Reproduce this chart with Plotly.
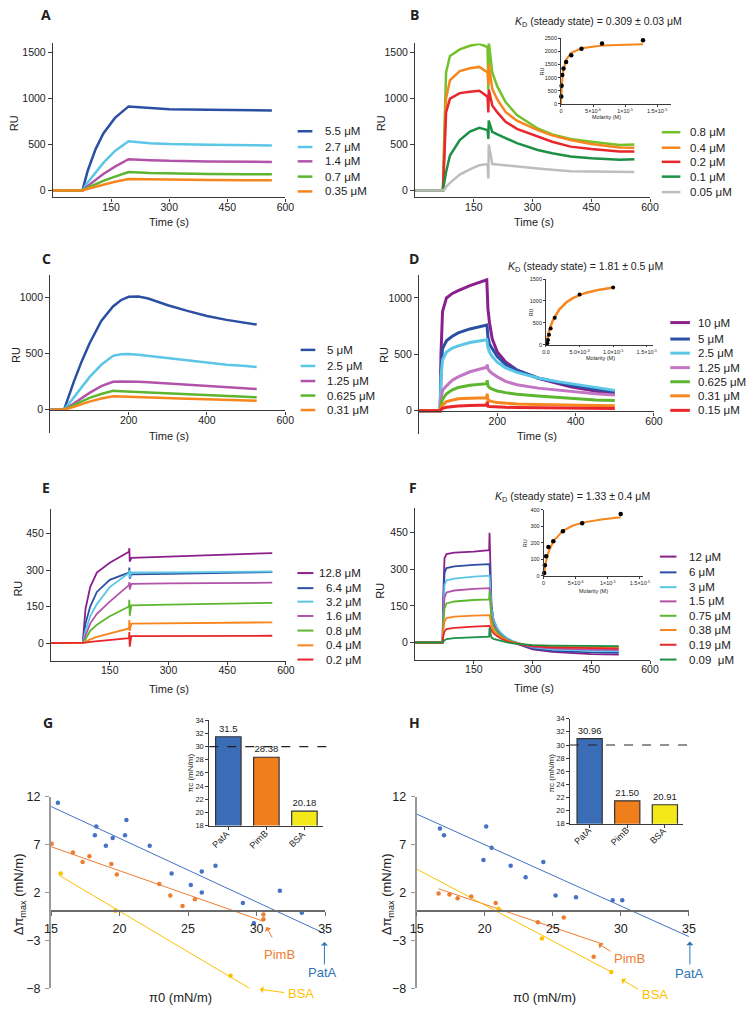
import plotly.graph_objects as go

W, H = 753, 1013
FONT = "Liberation Sans"

def X(p):
    return p / W

def Y(p):
    return 1 - p / H

# ---------------- colours ----------------
BLUE_D = "#2B4FA2"
CYAN = "#5CC6E6"
MAG = "#B153A8"
MAG_L = "#C275C2"
GREEN = "#5DB530"
LGREEN = "#74C12A"
ORANGE = "#F7861E"
RED = "#E8262B"
DGREEN = "#1C9045"
GRAY = "#BDBDBD"
PURPLE = "#8B1F8C"
C_PATA = "#4472C4"
C_PIMB = "#ED7D31"
C_BSA = "#FFC000"

# ---------------- Panel A ----------------
tA = [0, 76, 90, 110, 130, 160, 195, 250, 300, 400, 500, 565]
A_labels = ["5.5 μM", "2.7 μM", "1.4 μM", "0.7 μM", "0.35 μM"]
A_55 = [0, 0, 220, 450, 620, 790, 915, 895, 885, 878, 872, 870]
A_27 = [0, 0, 90, 200, 300, 430, 535, 515, 505, 497, 492, 490]
A_14 = [0, 0, 50, 120, 180, 260, 340, 330, 322, 316, 312, 310]
A_07 = [0, 0, 30, 70, 105, 150, 200, 190, 185, 180, 177, 175]
A_035 = [0, 0, 18, 42, 65, 95, 125, 120, 117, 113, 110, 110]

# ---------------- Panel B ----------------
tB = [0, 71, 75, 79, 89, 114, 140, 164, 185, 187, 188, 197, 210, 231, 260, 313, 350, 397, 450, 522, 560]
B_labels = ["0.8 μM", "0.4 μM", "0.2 μM", "0.1 μM", "0.05 μM"]
B_08 = [0, 0, 700, 1285, 1464, 1536, 1575, 1597, 1561, 1100, 1620, 1285, 1130, 962, 820, 675, 610, 560, 530, 495, 500]
B_04 = [0, 0, 500, 1000, 1200, 1300, 1330, 1345, 1285, 1150, 1380, 1105, 990, 854, 760, 657, 600, 549, 505, 467, 465]
B_02 = [0, 0, 400, 850, 1000, 1060, 1075, 1085, 1020, 850, 1100, 926, 850, 747, 670, 585, 530, 477, 450, 424, 425]
B_01 = [0, 0, 100, 200, 380, 549, 640, 682, 657, 560, 760, 639, 610, 567, 515, 441, 405, 370, 350, 334, 340]
B_005 = [0, 0, 10, 40, 83, 172, 230, 275, 287, 130, 500, 287, 282, 275, 262, 240, 225, 210, 205, 201, 202]
# B inset (steady state)
B_conc = [0.05, 0.1, 0.2, 0.4, 0.8, 1.6, 3.2, 6.4, 12.8]
B_ss = [280, 690, 1100, 1350, 1600, 1850, 2100, 2300, 2420]
B_fit_x = [0, 0.05, 0.1, 0.2, 0.4, 0.8, 1.6, 3.2, 6.4, 12.8]
B_fit_y = [0, 320, 570, 920, 1310, 1680, 1950, 2120, 2220, 2275]

# ---------------- Panel C ----------------
tC = [0, 35, 60, 80, 100, 130, 160, 180, 200, 225, 250, 300, 350, 400, 450, 500, 527]
C_labels = ["5 μM", "2.5 μM", "1.25 μM", "0.625 μM", "0.31 μM"]
C_5 = [0, 0, 250, 430, 590, 790, 920, 975, 1005, 1008, 990, 930, 880, 835, 800, 775, 758]
C_25 = [0, 0, 110, 200, 290, 400, 480, 493, 495, 490, 480, 455, 435, 415, 400, 390, 380]
C_125 = [0, 0, 55, 105, 150, 210, 248, 252, 252, 249, 245, 235, 222, 210, 200, 190, 185]
C_0625 = [0, 0, 40, 75, 105, 140, 168, 165, 162, 158, 155, 147, 140, 133, 125, 115, 110]
C_031 = [0, 0, 25, 50, 72, 100, 120, 118, 115, 112, 110, 105, 98, 93, 88, 82, 80]

# ---------------- Panel D ----------------
tD = [0, 54, 56, 60, 70, 85, 100, 130, 173, 174, 176, 180, 187, 200, 221, 250, 304, 350, 387, 450, 500]
D_labels = ["10 μM", "5 μM", "2.5 μM", "1.25 μM", "0.625 μM", "0.31 μM", "0.15 μM"]
D_10 = [0, 0, 500, 880, 1000, 1040, 1065, 1110, 1160, 1100, 900, 780, 636, 520, 432, 360, 286, 245, 213, 175, 146]
D_5 = [0, 0, 350, 550, 620, 660, 690, 725, 760, 740, 650, 590, 550, 480, 410, 360, 290, 255, 225, 190, 165]
D_25 = [0, 0, 300, 450, 520, 555, 575, 605, 630, 610, 560, 520, 480, 430, 380, 340, 290, 260, 240, 205, 180]
D_125 = [0, 0, 100, 180, 220, 270, 300, 345, 385, 410, 370, 350, 330, 300, 260, 230, 200, 185, 170, 150, 140]
D_0625 = [0, 0, 50, 100, 150, 185, 205, 225, 240, 270, 220, 205, 190, 175, 160, 145, 130, 118, 105, 95, 90]
D_031 = [0, 0, 25, 50, 80, 95, 105, 110, 115, 150, 95, 88, 80, 72, 66, 60, 55, 50, 47, 45, 43]
D_015 = [0, 0, 10, 20, 30, 38, 42, 46, 50, 80, 40, 38, 36, 34, 30, 28, 25, 23, 22, 20, 20]
# D inset
D_conc = [0.2, 0.3, 0.45, 0.7, 1.3, 5, 10]
D_ss = [30, 105, 226, 370, 618, 1146, 1312]
D_fit_x = [0, 0.25, 0.5, 1, 2, 3, 4, 5, 6, 8, 10]
D_fit_y = [0, 190, 335, 550, 810, 965, 1065, 1135, 1190, 1260, 1310]

# ---------------- Panel E ----------------
tE = [0, 81, 88, 100, 117, 150, 199, 200, 201, 205, 300, 400, 500, 565]
E_labels = ["12.8 μM", "6.4 μM", "3.2 μM", "1.6 μM", "0.8 μM", "0.4 μM", "0.2 μM"]
E_128 = [0, 0, 140, 230, 290, 330, 375, 390, 335, 350, 355, 360, 365, 370]
E_64 = [0, 0, 80, 150, 210, 260, 290, 310, 265, 282, 284, 286, 288, 292]
E_32 = [0, 0, 50, 110, 160, 230, 288, 300, 270, 290, 290, 291, 292, 294]
E_16 = [0, 0, 30, 80, 120, 170, 238, 250, 220, 243, 245, 246, 247, 248]
E_08 = [0, 0, 15, 50, 75, 110, 150, 178, 112, 155, 158, 160, 162, 165]
E_04 = [0, 0, 5, 15, 25, 40, 60, 95, 50, 80, 81, 82, 83, 85]
E_02 = [0, 0, 2, 5, 8, 13, 20, 45, -15, 28, 29, 29, 30, 30]

# ---------------- Panel F ----------------
tF = [0, 70, 72, 75, 80, 100, 150, 189, 190, 195, 200, 210, 220, 235, 250, 275, 300, 350, 400, 450, 520]
F_labels = ["12 μM", "6 μM", "3 μM", "1.5 μM", "0.75 μM", "0.38 μM", "0.19 μM", "0.09\u00a0 μM"]
F_12 = [0, 0, 200, 345, 362, 368, 372, 378, 450, 150, 90, 50, 30, 10, 0, -15, -28, -38, -44, -48, -50]
F_6 = [0, 0, 150, 285, 305, 312, 318, 321, 321, 150, 95, 55, 35, 15, 3, -12, -24, -34, -39, -41, -42]
F_3 = [0, 0, 120, 235, 255, 262, 270, 274, 274, 140, 95, 58, 38, 18, 6, -8, -20, -28, -32, -34, -35]
F_15 = [0, 0, 100, 185, 205, 213, 220, 223, 223, 110, 75, 45, 28, 12, 2, -10, -18, -24, -27, -29, -30]
F_075 = [0, 0, 80, 140, 160, 168, 174, 177, 210, 95, 65, 40, 25, 10, 2, -8, -14, -17, -19, -20, -20]
F_038 = [0, 0, 50, 85, 100, 106, 110, 112, 112, 70, 50, 32, 20, 8, 0, -8, -12, -15, -17, -18, -18]
F_019 = [0, 0, 25, 45, 55, 60, 65, 68, 68, 50, 38, 25, 15, 5, -2, -10, -15, -20, -22, -24, -25]
F_009 = [0, 0, 5, 10, 14, 18, 22, 24, 60, 20, 15, 10, 5, 0, -4, -8, -11, -13, -14, -15, -15]
# F inset
F_conc = [0.09, 0.19, 0.38, 0.75, 1.5, 3, 6, 12]
F_ss = [16, 63, 119, 174, 210, 270, 319, 376]
F_fit_x = [0, 0.09, 0.19, 0.38, 0.75, 1.5, 3, 4.5, 6, 9, 12]
F_fit_y = [0, 25, 49, 88, 142, 209, 273, 304, 323, 342, 355]

# ---------------- Panel G ----------------
G_patA_x = [15.5, 18.3, 18.2, 19.5, 19.0, 20.5, 20.4, 22.2, 23.8, 26.0, 27.0, 25.2, 26.0, 29.0, 29.8, 31.7, 33.3]
G_patA_y = [11.4, 8.9, 8.0, 7.7, 6.9, 9.6, 8.0, 6.9, 4.0, 4.2, 4.8, 2.8, 2.0, 0.9, -1.2, 2.2, -0.1]
G_pimB_x = [15.05, 16.6, 17.3, 17.8, 19.4, 19.8, 22.9, 23.7, 24.6, 25.5, 30.5, 30.5]
G_pimB_y = [7.1, 6.2, 5.2, 5.8, 5.0, 3.9, 2.9, 1.7, 0.6, 1.3, -0.3, -0.8]
G_bsa_x = [15.7, 19.7, 28.1]
G_bsa_y = [4.0, 0.1, -6.7]
G_fit_patA_x = [15, 35]
G_fit_patA_y = [11.0, -2.3]
G_fit_pimB_x = [15, 30.5]
G_fit_pimB_y = [6.8, -1.0]
G_fit_bsa_x = [15.6, 29.6]
G_fit_bsa_y = [3.8, -8.1]
bar_cats = ["PatA", "PimB", "BSA"]
G_pic = [31.5, 28.38, 20.18]
G_pic_txt = ["31.5", "28.38", "20.18"]

# ---------------- Panel H ----------------
H_patA_x = [16.7, 17.0, 20.1, 20.5, 19.9, 21.9, 24.3, 23.0, 25.2, 26.7, 29.4, 30.1]
H_patA_y = [8.7, 8.0, 8.9, 6.7, 5.4, 4.8, 5.2, 3.6, 1.7, 1.5, 1.2, 1.2]
H_pimB_x = [16.6, 17.4, 18.0, 19.0, 20.8, 23.9, 25.8, 28.0]
H_pimB_y = [1.9, 1.8, 1.4, 1.6, 0.9, -1.1, -0.6, -4.7]
H_bsa_x = [21.0, 24.2, 29.3]
H_bsa_y = [0.3, -2.8, -6.3]
H_fit_patA_x = [15, 35]
H_fit_patA_y = [10.2, -2.6]
H_fit_pimB_x = [16.6, 28.7]
H_fit_pimB_y = [2.4, -3.4]
H_fit_bsa_x = [15, 29.3]
H_fit_bsa_y = [4.45, -6.3]
H_pic = [30.96, 21.50, 20.91]
H_pic_txt = ["30.96", "21.50", "20.91"]
pic_threshold = 30

# ---------------- figure ----------------
fig = go.Figure()
layout = dict(
    width=W, height=H, margin=dict(l=0, r=0, t=0, b=0),
    paper_bgcolor="white", plot_bgcolor="rgba(0,0,0,0)",
    showlegend=False, font=dict(family=FONT, size=11, color="#222"),
)
annotations = []
shapes = []
INSET_FS = 5.5


def names(i):
    s = "" if i == 1 else str(i)
    return "x" + s, "y" + s, "xaxis" + s, "yaxis" + s


def add_axes(i, xd, yd, xr, yr, xtick, ytick, xkw=None, ykw=None, main=True, xpos=None):
    xn, yn, xl, yl = names(i)
    base = dict(showline=True, linecolor="#3a3a3a", linewidth=1.4 if main else 0.8,
                ticks="outside", ticklen=4 if main else 2, tickwidth=1.2 if main else 0.7,
                tickcolor="#3a3a3a", showgrid=False, zeroline=False,
                tickfont=dict(size=10.5 if main else INSET_FS, family=FONT, color="#222"))
    xa = dict(base, domain=[X(xd[0]), X(xd[1])], range=xr, tickvals=xtick)
    if main:
        xa["ticklen"] = 3
        xa["ticklabelstandoff"] = -3
    ya = dict(base, domain=[Y(yd[1]), Y(yd[0])], range=yr, tickvals=ytick, anchor=xn)
    if xpos is None:
        xa["anchor"] = yn
    else:
        xa["anchor"] = "free"
        xa["position"] = Y(xpos)
    if xkw:
        xa.update(xkw)
    if ykw:
        ya.update(ykw)
    layout[xl] = xa
    layout[yl] = ya


def line(i, x, y, color, width):
    xn, yn, _, _ = names(i)
    fig.add_trace(go.Scatter(x=x, y=y, mode="lines", xaxis=xn, yaxis=yn,
                             line=dict(color=color, width=width), hoverinfo="skip"))


def dots(i, x, y, color, size):
    xn, yn, _, _ = names(i)
    fig.add_trace(go.Scatter(x=x, y=y, mode="markers", xaxis=xn, yaxis=yn,
                             marker=dict(color=color, size=size), cliponaxis=False, hoverinfo="skip"))


def text(s, x, y, size=11, color="#222", xanchor="center", angle=0, family=FONT):
    annotations.append(dict(text=s, x=X(x), y=Y(y), xref="paper", yref="paper",
                            showarrow=False, xanchor=xanchor, yanchor="middle",
                            textangle=angle, font=dict(size=size, color=color, family=family)))


def arrow(tip, tail, color):
    annotations.append(dict(text="", x=X(tip[0]), y=Y(tip[1]), xref="paper", yref="paper",
                            ax=tail[0] - tip[0], ay=tail[1] - tip[1], showarrow=True,
                            arrowhead=1, arrowsize=1.2, arrowwidth=1, arrowcolor=color))


def legend(labels, colors, x0, x1, xt, ys, lw, xanchor="left"):
    for lab, col, yy in zip(labels, colors, ys):
        shapes.append(dict(type="line", xref="paper", yref="paper", x0=X(x0), x1=X(x1),
                           y0=Y(yy), y1=Y(yy), line=dict(color=col, width=lw)))
        text(lab, xt, yy, size=11.5, xanchor=xanchor)


def letter(s, x, y):
    text("<b>%s</b>" % s, x, y, size=14, family="Open Sans")


# ---- A ----
add_axes(1, (47, 284.5), (37, 193), [0, 600], [-75, 1600], [150, 300, 450, 600], [0, 500, 1000, 1500])
colsA = [BLUE_D, CYAN, MAG, GREEN, ORANGE]
for ys, c in zip([A_55, A_27, A_14, A_07, A_035], colsA):
    line(1, tA, ys, c, 2.5)
legend(A_labels, colsA, 297, 312, 323, [126, 142, 156.5, 172, 187], 2.5)
letter("A", 40, 8)
text("RU", 8, 118, angle=-90)
text("Time (s)", 166, 218)

# ---- B ----
add_axes(2, (417, 657), (37, 193), [0, 600], [-75, 1600], [150, 300, 450, 600], [0, 500, 1000, 1500])
colsB = [LGREEN, ORANGE, RED, DGREEN, GRAY]
for ys, c in zip([B_08, B_04, B_02, B_01, B_005], colsB):
    line(2, tB, ys, c, 2.5)
legend(B_labels, colsB, 669, 688, 696, [127, 142.7, 157, 172, 187.7], 2.5)
letter("B", 416, 8)
text("RU", 382, 118, angle=-90)
text("Time (s)", 538, 218)
text("<i>K</i><sub>D</sub> (steady state) = 0.309 ± 0.03 μM", 604, 15, size=10.5)
add_axes(3, (566, 678), (31.7, 98.3), [0, 17.1], [0, 2500], [0, 5, 10, 15], [0, 500, 1000, 1500, 2000, 2500],
         xkw=dict(ticktext=["0", "5×10<sup>-6</sup>", "1×10<sup>-5</sup>", "1.5×10<sup>-5</sup>"]), main=False)
line(3, B_fit_x, B_fit_y, ORANGE, 2)
dots(3, B_conc, B_ss, "black", 4.5)
text("RU", 547, 65, size=INSET_FS, angle=-90)
text("Molarity (M)", 613, 112, size=INSET_FS)

# ---- C ----
add_axes(4, (44.3, 284.3), (271.7, 431.7), [0, 600], [-205, 1200], [200, 400, 600], [0, 500, 1000], xpos=409)
colsC = [BLUE_D, CYAN, MAG, GREEN, ORANGE]
for ys, c in zip([C_5, C_25, C_125, C_0625, C_031], colsC):
    line(4, tC, ys, c, 2.5)
legend(C_labels, colsC, 300, 315, 325, [347.7, 364, 379.3, 394, 408.7], 2.5)
letter("C", 40, 255)
text("RU", 9, 353, angle=-90)
text("Time (s)", 166, 435)

# ---- D ----
add_axes(5, (421, 661), (271.7, 433), [0, 600], [-207, 1204], [200, 400, 600], [0, 500, 1000], xpos=410)
colsD = [PURPLE, BLUE_D, CYAN, MAG_L, GREEN, ORANGE, RED]
for ys, c in zip([D_10, D_5, D_25, D_125, D_0625, D_031, D_015], colsD):
    line(5, tD, ys, c, 3)
legend(D_labels, colsD, 677.7, 697.7, 704, [320, 336.7, 351, 365.7, 380, 394.3, 409], 3)
letter("D", 416, 255)
text("RU", 385, 353, angle=-90)
text("Time (s)", 542, 435)
text("<i>K</i><sub>D</sub> (steady state) = 1.81 ± 0.5 μM", 591, 263.5, size=10.5)
add_axes(6, (550.7, 660.5), (276, 342.3), [0, 16], [0, 1500], [0, 5, 10, 15], [0, 500, 1000, 1500],
         xkw=dict(ticktext=["0.0", "5.0×10<sup>-6</sup>", "1.0×10<sup>-5</sup>", "1.5×10<sup>-5</sup>"]), main=False)
line(6, D_fit_x, D_fit_y, ORANGE, 2.5)
dots(6, D_conc, D_ss, "black", 4)
text("RU", 535, 310, size=INSET_FS, angle=-90)
text("Molarity (M)", 606, 356, size=INSET_FS)

# ---- E ----
add_axes(7, (45, 285), (509.3, 662.7), [0, 600], [-72, 550], [150, 300, 450, 600], [0, 150, 300, 450])
colsE = [PURPLE, BLUE_D, CYAN, MAG, GREEN, ORANGE, RED]
for ys, c in zip([E_128, E_64, E_32, E_16, E_08, E_04, E_02], colsE):
    line(7, tE, ys, c, 1.8)
legend(E_labels, colsE, 296.7, 313, 363.5, [574, 589.3, 603, 617.5, 632.3, 647.3, 661.7], 2, xanchor="right")
letter("E", 40, 487)
text("RU", 11, 590, angle=-90)
text("Time (s)", 166, 692)

# ---- F ----
add_axes(8, (417, 657), (508.3, 661.7), [0, 600], [-70, 550], [150, 300, 450, 600], [0, 150, 300, 450])
colsF = [PURPLE, BLUE_D, CYAN, MAG, GREEN, ORANGE, RED, DGREEN]
for ys, c in zip([F_12, F_6, F_3, F_15, F_075, F_038, F_019, F_009], colsF):
    line(8, tF, ys, c, 1.8)
legend(F_labels, colsF, 667, 684, 694.3, [557.3, 573.3, 588.3, 602.7, 617.3, 631.7, 646.7, 661.7], 2)
letter("F", 415, 487)
text("RU", 381, 592, angle=-90)
text("Time (s)", 538, 691)
text("<i>K</i><sub>D</sub> (steady state) = 1.33 ± 0.4 μM", 578, 497, size=10.5)
add_axes(9, (548.3, 649.3), (510, 576.7), [0, 15.4], [0, 400], [0, 5, 10, 15], [0, 100, 200, 300, 400],
         xkw=dict(ticktext=["0", "5×10<sup>-6</sup>", "1×10<sup>-5</sup>", "1.5×10<sup>-5</sup>"]), main=False)
line(9, F_fit_x, F_fit_y, ORANGE, 2)
dots(9, F_conc, F_ss, "black", 4.5)
text("RU", 530, 544, size=INSET_FS, angle=-90)
text("Molarity (M)", 599, 592, size=INSET_FS)


# ---- G & H (monolayer) ----
def mono(i, xd, grp):
    add_axes(i, xd, (801, 995), [15, 35], [-8, 12], [15, 20, 25, 30, 35], [-8, -3, 2, 7, 12], xpos=917.1,
             xkw=dict(linecolor="#6b6b6b", linewidth=1.5, tickcolor="#6b6b6b", ticklen=4, ticklabelstandoff=2,
                      tickfont=dict(size=12.5, family=FONT, color="#222")),
             ykw=dict(linecolor="#9a9a9a", linewidth=2.2, tickcolor="#9a9a9a", ticklabelstandoff=2,
                      ticktext=["−8", "−3", "2", "7", "12"],
                      tickfont=dict(size=12.5, family=FONT, color="#222")))
    (pax, pay, mbx, mby, bsx, bsy, fpa, fpb, fbs) = grp
    line(i, fpa[0], fpa[1], C_PATA, 1)
    line(i, fpb[0], fpb[1], C_PIMB, 1)
    line(i, fbs[0], fbs[1], C_BSA, 1)
    dots(i, pax, pay, C_PATA, 4.5)
    dots(i, mbx, mby, C_PIMB, 4.5)
    dots(i, bsx, bsy, C_BSA, 4.5)


def bars(i, xd, yd, vals, txt, xr, label_y):
    xn, yn, xl, yl = names(i)
    cats = [0, 1, 2]
    fig.add_trace(go.Bar(x=cats, y=vals, xaxis=xn, yaxis=yn, width=0.67,
                         marker=dict(color=["#3A6DB5", "#F07E1A", "#F2E81A"], line=dict(color="#333", width=1.2)),
                         text=txt, textposition="outside", cliponaxis=False,
                         textfont=dict(size=9.5, family=FONT, color="#222"), hoverinfo="skip"))
    add_axes(i, xd, yd, xr, [18, 34], cats, list(range(18, 35, 2)),
             xkw=dict(showticklabels=False, ticklen=3, tickwidth=0.8, linewidth=1),
             ykw=dict(ticklen=3, tickwidth=0.8, linewidth=1, tickfont=dict(size=7.5, family=FONT, color="#222")))
    # rotated category labels under each bar
    for c, lab in zip(cats, bar_cats):
        annotations.append(dict(text=lab, x=c, xref=xn, y=Y(label_y), yref="paper", xshift=-7,
                                showarrow=False, textangle=-45, xanchor="center", yanchor="middle",
                                font=dict(size=9, family=FONT, color="#222")))
    shapes.append(dict(type="line", xref="paper", yref=yn, x0=X(xd[0]), x1=X(xd[1] + 5),
                       y0=pic_threshold, y1=pic_threshold, line=dict(color="#222", width=1.2, dash="dash")))


mono(10, (45, 325), (G_patA_x, G_patA_y, G_pimB_x, G_pimB_y, G_bsa_x, G_bsa_y,
                     (G_fit_patA_x, G_fit_patA_y), (G_fit_pimB_x, G_fit_pimB_y), (G_fit_bsa_x, G_fit_bsa_y)))
bars(11, (206.7, 323.3), (723.3, 830), G_pic, G_pic_txt, [-0.5, 2.5], 844)
letter("G", 42, 726)
text("Δπ<sub>max</sub> (mN/m)", 13, 900, size=13, angle=-90)
text("π0 (mN/m)", 177, 1004, size=13)
text("πc (mN/m)", 187, 777, size=8, angle=-90)
text("PimB", 278.5, 961, size=13, color=C_PIMB)
text("PatA", 322.7, 979, size=13, color="#2E75B6")
text("BSA", 300, 1000, size=13, color=C_BSA)
arrow((265, 933), (271.7, 945), C_PIMB)
arrow((324.3, 948), (324.3, 972), "#2E75B6")
arrow((258.3, 996), (284, 999.5), C_BSA)

mono(12, (418.7, 696.7), (H_patA_x, H_patA_y, H_pimB_x, H_pimB_y, H_bsa_x, H_bsa_y,
                          (H_fit_patA_x, H_fit_patA_y), (H_fit_pimB_x, H_fit_pimB_y), (H_fit_bsa_x, H_fit_bsa_y)))
bars(13, (575.3, 691), (721.7, 828.3), H_pic, H_pic_txt, [-0.52, 2.49], 840.5)
letter("H", 416, 726)
text("Δπ<sub>max</sub> (mN/m)", 389, 900, size=13, angle=-90)
text("π0 (mN/m)", 549, 1004, size=13)
text("πc (mN/m)", 556, 777, size=8, angle=-90)
text("PimB", 636, 965, size=13, color=C_PIMB)
text("BSA", 662, 1001, size=13, color=C_BSA)
text("PatA", 697.7, 980, size=13, color="#2E75B6")
arrow((604.3, 950), (617.7, 958.3), C_PIMB)
arrow((627.7, 986), (646, 996.7), C_BSA)
arrow((697.7, 947.7), (697.7, 972), "#2E75B6")

layout["annotations"] = annotations
layout["shapes"] = shapes
fig.update_layout(**layout)
fig.write_html("out.html", config={"displayModeBar": False},
               post_script="document.body.style.margin='0';document.body.style.overflow='hidden';")
